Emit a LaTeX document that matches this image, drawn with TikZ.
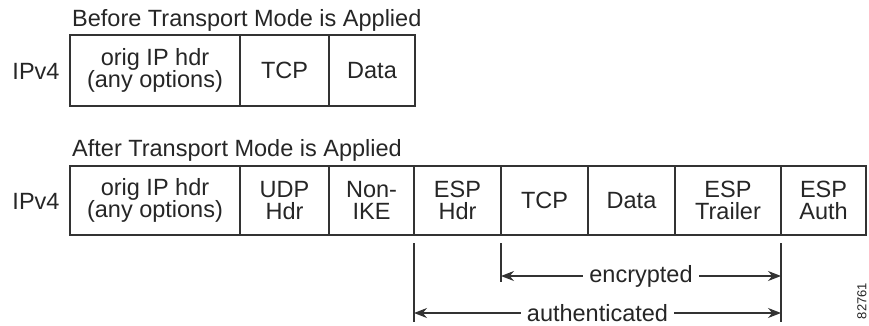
\documentclass[tikz,border=0pt]{standalone}
\usepackage{fontspec}
\setmainfont{Liberation Sans}
\usetikzlibrary{arrows.meta}
\begin{document}
\begin{tikzpicture}[x=1pt,y=-1pt,
  every node/.style={font=\fontsize{23.5}{22.5}\selectfont, text=black!85},
  cell/.style={draw=black!80, line width=1.3pt, rectangle, inner sep=0pt, outer sep=0pt, align=center},
  title/.style={anchor=base west, inner sep=0pt},
  dimline/.style={draw=black!80, line width=1.2pt},
  dimarrow/.style={draw=black!80, line width=1.2pt, {Stealth[length=13pt,width=10pt]}-{Stealth[length=13pt,width=10pt]}},
  dimlabel/.style={fill=white, inner sep=6pt, inner ysep=0pt}
]
\useasboundingbox (0,0) rectangle (869,326);
\fill[white] (0,0) rectangle (869,326);

% ---- Before ----
\node[title] (t1) at (72,26.5) {Before Transport Mode is Applied};
\node (v1) at (36,71) {IPv4};
\node[cell, minimum width=170pt, minimum height=71pt] (b1) at (155,70.5) {orig IP hdr\\(any options)};
\node[cell, minimum width=89pt, minimum height=71pt] (b2) at (284.5,70.5) {TCP};
\node[cell, minimum width=86pt, minimum height=71pt] (b3) at (372,70.5) {Data};

% ---- After ----
\node[title] (t2) at (72,156) {After Transport Mode is Applied};
\node (v2) at (36,201) {IPv4};
\node[cell, minimum width=170pt, minimum height=69pt] (a1) at (155,200.5) {orig IP hdr\\(any options)};
\node[cell, minimum width=89pt, minimum height=69pt] (a2) at (284.5,200.5) {UDP\\Hdr};
\node[cell, minimum width=85pt, minimum height=69pt] (a3) at (371.5,200.5) {Non-\\IKE};
\node[cell, minimum width=87pt, minimum height=69pt] (a4) at (457.5,200.5) {ESP\\Hdr};
\node[cell, minimum width=87pt, minimum height=69pt] (a5) at (544.5,200.5) {TCP};
\node[cell, minimum width=87pt, minimum height=69pt] (a6) at (631.5,200.5) {Data};
\node[cell, minimum width=106pt, minimum height=69pt] (a7) at (728,200.5) {ESP\\Trailer};
\node[cell, minimum width=85pt, minimum height=69pt] (a8) at (823.5,200.5) {ESP\\Auth};

% ---- dimension lines ----
\coordinate (p1) at (414,243);
\coordinate (p1e) at (414,322);
\coordinate (p2) at (501,243);
\coordinate (p2e) at (501,282);
\coordinate (p3) at (781,243);
\coordinate (p3e) at (781,322);
\draw[dimline] (p1) -- (p1e);
\draw[dimline] (p2) -- (p2e);
\draw[dimline] (p3) -- (p3e);

\coordinate (e1) at (501,276);
\coordinate (e2) at (781,276);
\draw[dimarrow] (e1) -- node[dimlabel] (enc) {encrypted} (e2);

\coordinate (h1) at (414,313);
\coordinate (h2) at (781,313);
\draw[dimarrow] (h1) -- node[dimlabel] (auth) {authenticated} (h2);

\node[rotate=90, font=\fontsize{13}{13}\selectfont] (num) at (862,301) {82761};
\end{tikzpicture}
\end{document}
